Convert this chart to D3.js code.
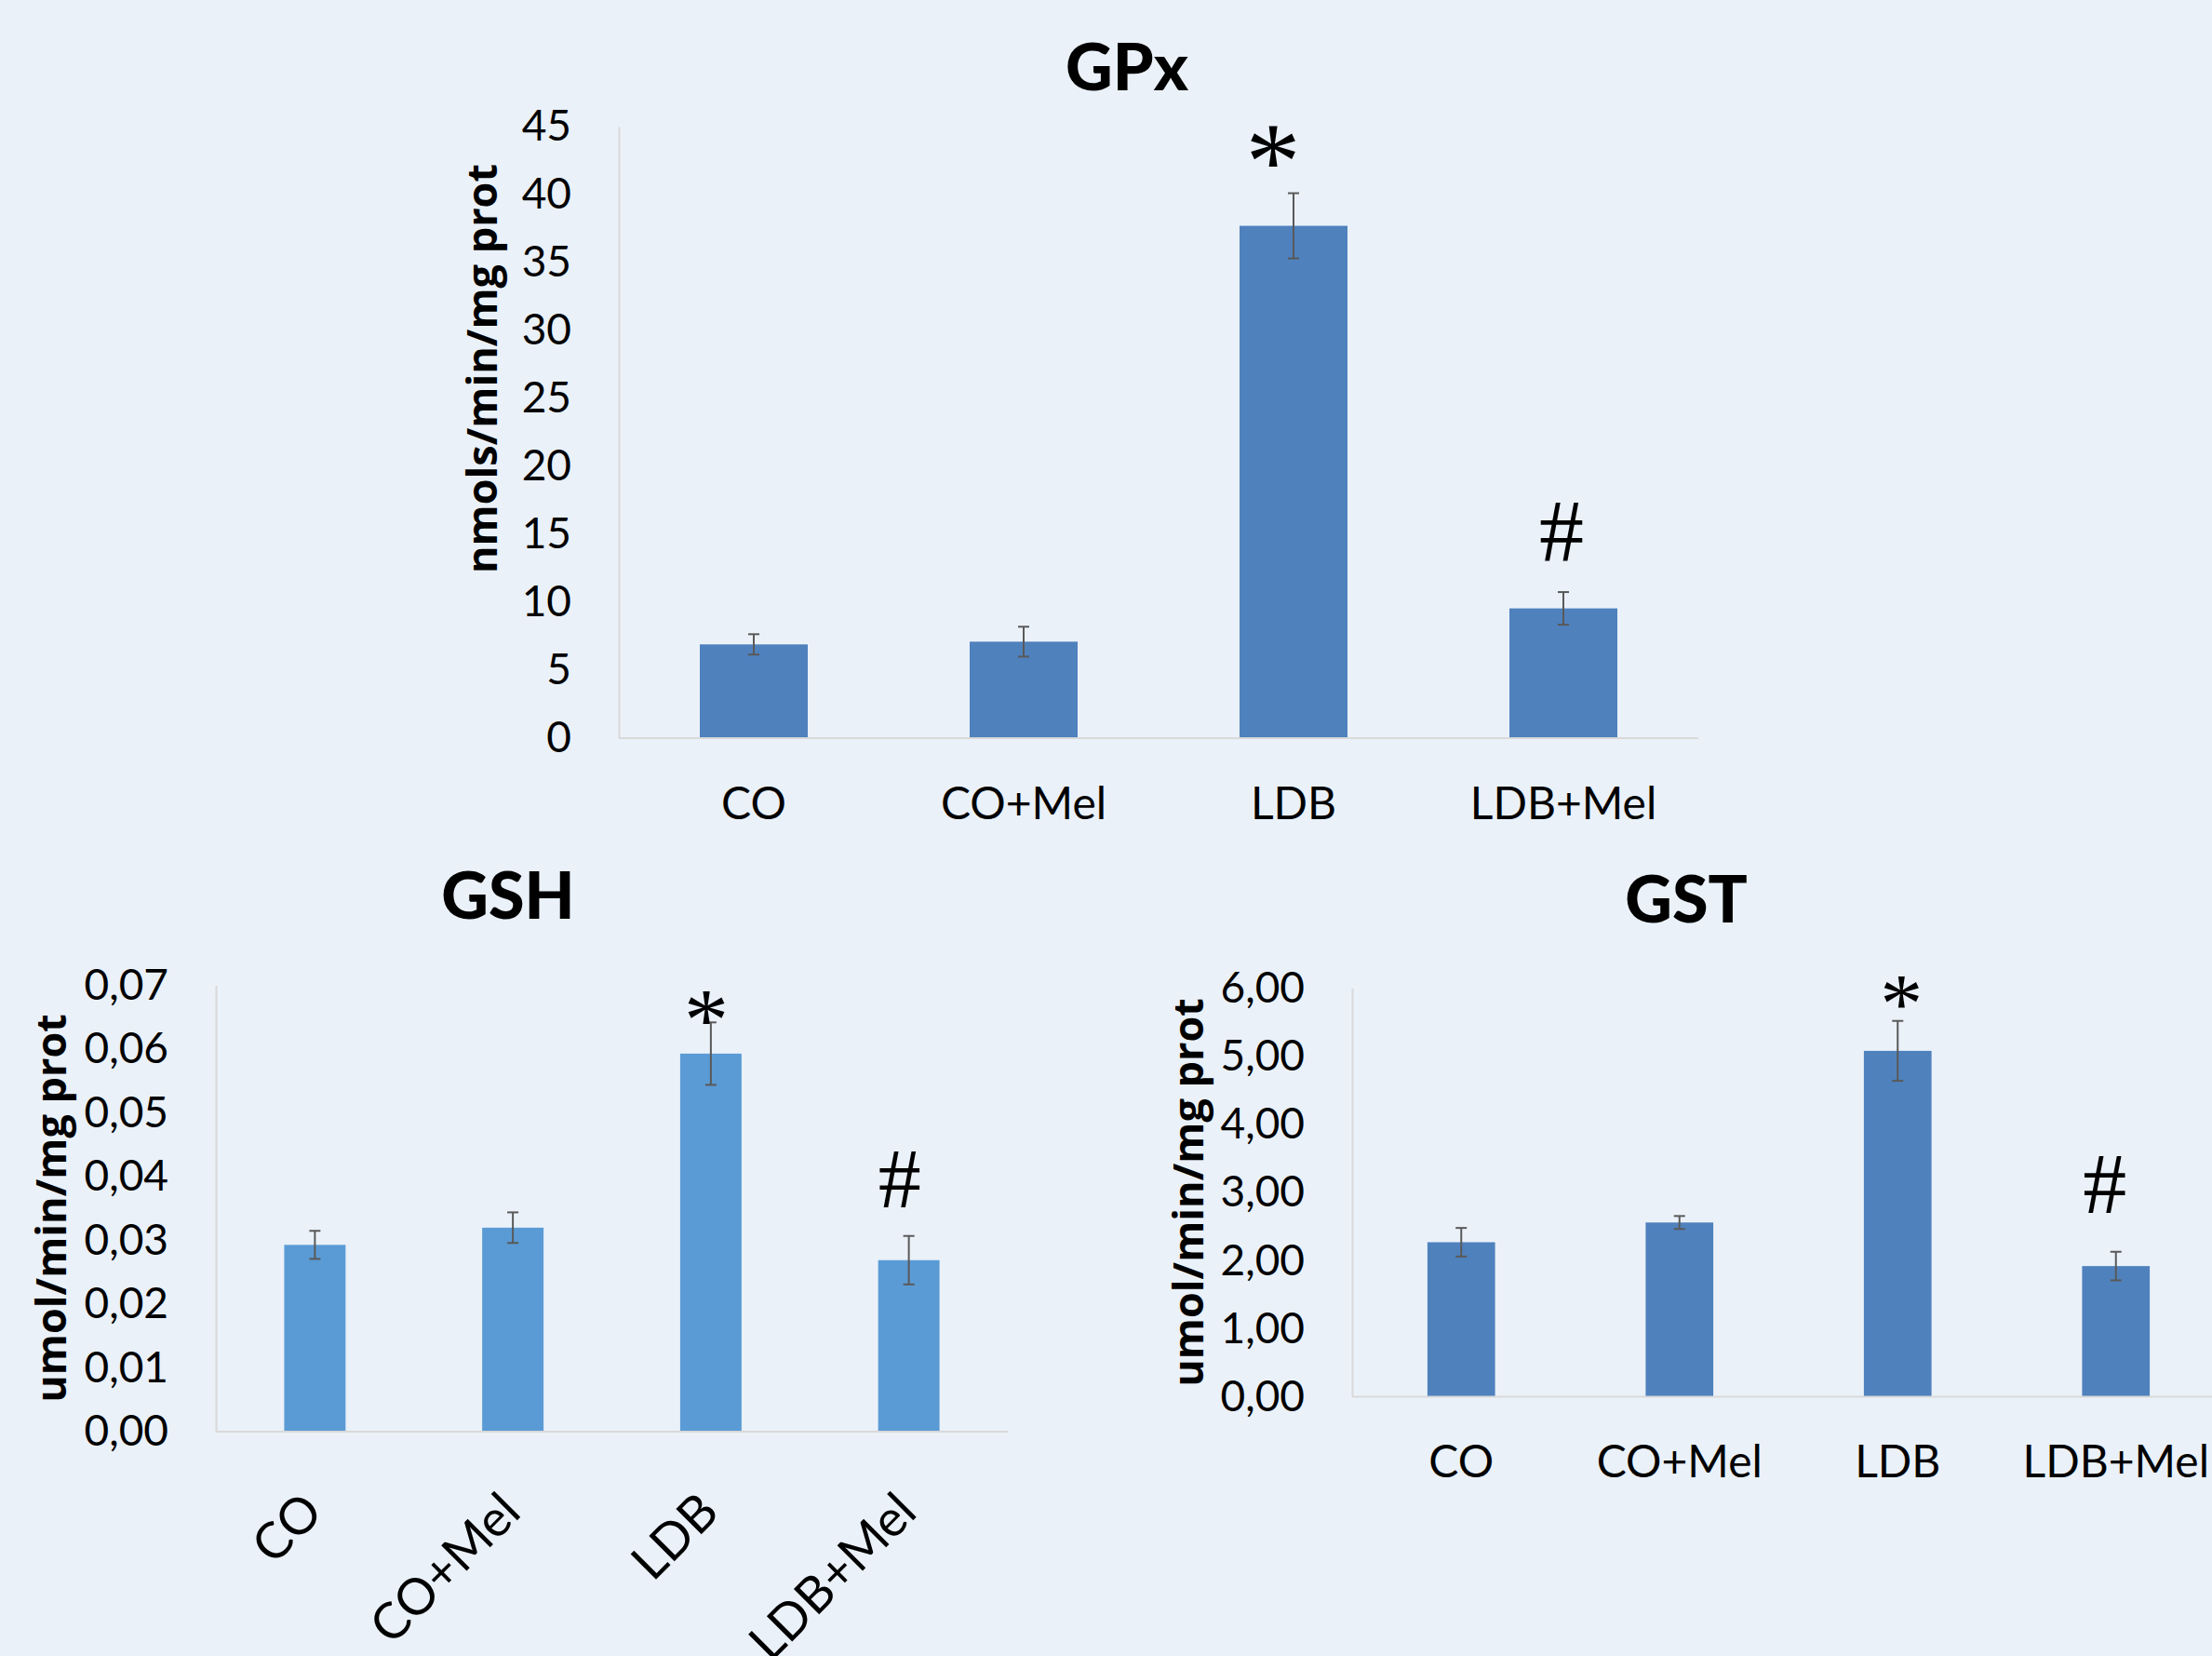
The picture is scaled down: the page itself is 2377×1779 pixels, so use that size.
<!DOCTYPE html>
<html>
<head>
<meta charset="utf-8">
<script src="https://cdn.jsdelivr.net/npm/d3@7"></script>
<style>
  html, body { margin: 0; padding: 0; background: #EAF1F9; }
  svg { display: block; }
</style>
</head>
<body>
<svg id="chart" width="2377" height="1779"></svg>
<script>
// Treatment groups shared by the three assays
const categories = ["CO", "CO+Mel", "LDB", "LDB+Mel"];

// GPx activity (nmols/min/mg prot): mean and error
const gpxMeans  = [6.9, 7.1, 37.7, 9.55];
const gpxErrors = [0.75, 1.1, 2.4, 1.2];
const gpxTicks  = [0, 5, 10, 15, 20, 25, 30, 35, 40, 45];

// GSH (umol/min/mg prot)
const gshMeans  = [0.0293, 0.0320, 0.0593, 0.0269];
const gshErrors = [0.0022, 0.0024, 0.0049, 0.0038];
const gshTicks  = [0, 0.01, 0.02, 0.03, 0.04, 0.05, 0.06, 0.07];

// GST (umol/min/mg prot)
const gstMeans  = [2.27, 2.56, 5.08, 1.92];
const gstErrors = [0.21, 0.095, 0.44, 0.21];
const gstTicks  = [0, 1, 2, 3, 4, 5, 6];

// Significance symbols per group
const significance = ["", "", "*", "#"];

const commaFormat = digits => v => d3.format("." + digits + "f")(v).replace(".", ",");

const panels = [
  {
    title: "GPx", yLabel: "nmols/min/mg prot",
    means: gpxMeans, errors: gpxErrors, ticks: gpxTicks, fmt: d3.format("d"),
    left: 665, right: 1825, top: 136, bottom: 793,
    pad: 0.6, color: "#4F81BD",
    titleX: 1211, titleY: 97, yLabelX: 518, yLabelY: 396,
    rotateLabels: false, labelPad: 53,
    marks: { "*": { level: 43.5, dx: -22, size: 118 }, "#": { level: 15.2, dx: -2, size: 96 } }
  },
  {
    title: "GSH", yLabel: "umol/min/mg prot",
    means: gshMeans, errors: gshErrors, ticks: gshTicks, fmt: commaFormat(2),
    left: 232, right: 1083, top: 1058.6, bottom: 1538,
    pad: 0.69, color: "#5B9BD5",
    titleX: 546, titleY: 987, yLabelX: 55, yLabelY: 1298,
    rotateLabels: true, labelPad: 89,
    marks: { "*": { level: 0.0665, dx: -5, size: 96 }, "#": { level: 0.0396, dx: -10, size: 92 } }
  },
  {
    title: "GST", yLabel: "umol/min/mg prot",
    means: gstMeans, errors: gstErrors, ticks: gstTicks, fmt: commaFormat(2),
    left: 1453, right: 2391, top: 1061.6, bottom: 1500.6,
    pad: 0.69, color: "#4F81BD",
    titleX: 1812, titleY: 991, yLabelX: 1277, yLabelY: 1281,
    rotateLabels: false, labelPad: 52,
    marks: { "*": { level: 5.94, dx: 4, size: 92 }, "#": { level: 3.12, dx: -12, size: 94 } }
  }
];

const svg = d3.select("#chart");
svg.append("rect").attr("width", 2377).attr("height", 1779).attr("fill", "#EAF1F9");

panels.forEach(p => {
  const g = svg.append("g");

  const x = d3.scaleBand()
    .domain(categories)
    .range([p.left, p.right])
    .paddingInner(p.pad)
    .paddingOuter(p.pad / 2);

  const yMax = p.ticks[p.ticks.length - 1];
  const y = d3.scaleLinear().domain([0, yMax]).range([p.bottom, p.top]);

  // value axis
  const yAxis = g.append("g")
    .attr("transform", `translate(${p.left},0)`)
    .call(d3.axisLeft(y).tickValues(p.ticks).tickFormat(p.fmt).tickSize(0).tickPadding(51));
  yAxis.select(".domain").attr("stroke", "#D9D9D9").attr("stroke-width", 2);
  yAxis.selectAll("text")
    .attr("font-family", "Lato, 'Open Sans', sans-serif")
    .attr("font-size", 46)
    .attr("fill", "#000");

  // bars
  const data = categories.map((c, i) => ({ c, m: p.means[i], e: p.errors[i], s: significance[i] }));
  g.selectAll("rect.bar").data(data).join("rect")
    .attr("class", "bar")
    .attr("x", d => x(d.c))
    .attr("width", x.bandwidth())
    .attr("y", d => y(d.m))
    .attr("height", d => y(0) - y(d.m))
    .attr("fill", p.color);

  // category axis
  const xAxis = g.append("g")
    .attr("transform", `translate(0,${p.bottom})`)
    .call(d3.axisBottom(x).tickSize(0).tickPadding(p.labelPad));
  xAxis.select(".domain").attr("stroke", "#D9D9D9").attr("stroke-width", 2)
    .attr("d", `M${p.left},0H${p.right}`);
  const xt = xAxis.selectAll("text")
    .attr("font-family", "Lato, 'Open Sans', sans-serif")
    .attr("fill", "#000");
  if (p.rotateLabels) {
    xt.attr("font-size", 54)
      .attr("text-anchor", "end")
      .attr("x", null).attr("y", null).attr("dy", null)
      .attr("transform", `translate(11,${p.labelPad}) rotate(-45)`);
  } else {
    xt.attr("font-size", 48);
  }

  // error bars
  const cx = d => x(d.c) + x.bandwidth() / 2;
  const eb = g.selectAll("g.err").data(data).join("g").attr("class", "err")
    .attr("stroke", "#595959").attr("stroke-width", 2);
  eb.append("line")
    .attr("x1", cx).attr("x2", cx)
    .attr("y1", d => y(d.m + d.e)).attr("y2", d => y(d.m - d.e));
  eb.append("line")
    .attr("x1", d => cx(d) - 6).attr("x2", d => cx(d) + 6)
    .attr("y1", d => y(d.m + d.e)).attr("y2", d => y(d.m + d.e));
  eb.append("line")
    .attr("x1", d => cx(d) - 6).attr("x2", d => cx(d) + 6)
    .attr("y1", d => y(d.m - d.e)).attr("y2", d => y(d.m - d.e));

  // significance symbols
  g.selectAll("text.sig").data(data.filter(d => d.s)).join("text")
    .attr("class", "sig")
    .attr("x", d => cx(d) + p.marks[d.s].dx)
    .attr("y", d => y(p.marks[d.s].level))
    .attr("text-anchor", "middle")
    .attr("font-family", "'Liberation Serif', 'DejaVu Serif', serif")
    .attr("font-size", d => p.marks[d.s].size)
    .attr("dy", d => d.s === "*" ? "0.47em" : "0.33em")
    .attr("fill", "#000")
    .text(d => d.s);

  // title
  g.append("text")
    .attr("x", p.titleX).attr("y", p.titleY)
    .attr("text-anchor", "middle")
    .attr("font-family", "Lato, 'Open Sans', sans-serif")
    .attr("font-weight", 900)
    .attr("font-size", 70)
    .text(p.title);

  // value axis title
  g.append("text")
    .attr("transform", `translate(${p.yLabelX},${p.yLabelY}) rotate(-90)`)
    .attr("text-anchor", "middle")
    .attr("dy", "0.35em")
    .attr("font-family", "'Open Sans', sans-serif")
    .attr("font-weight", 700)
    .attr("font-size", 45)
    .text(p.yLabel);
});
</script>
</body>
</html>
